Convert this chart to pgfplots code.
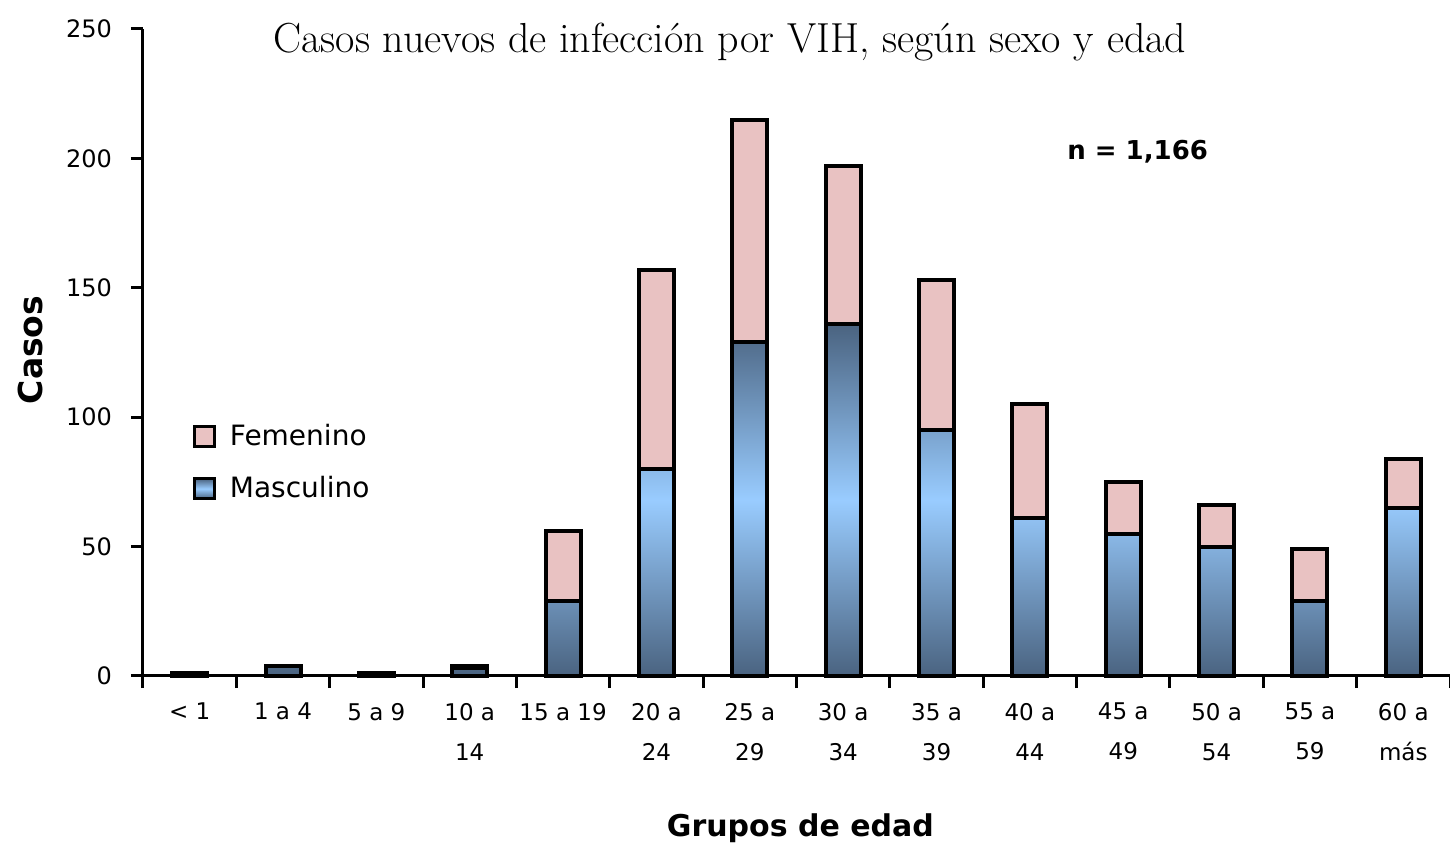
\documentclass[border=0pt]{standalone}
\usepackage{fontspec}
\usepackage{pgfplots}
\pgfplotsset{compat=1.18}
\newfontfamily\sansf{DejaVu Sans}
\definecolor{pinkf}{RGB}{233,194,194}
\definecolor{bluedark}{RGB}{74,99,128}
\definecolor{bluelight}{RGB}{153,204,255}
\pgfplotsset{sqlegend/.style={legend image code/.code={\draw[##1, line width=1.5pt] (0pt,-5pt) rectangle (10pt,5pt);}}}
\begin{document}
\begin{tikzpicture}
\begin{axis}[
  scale only axis, width=653.5pt, height=323.5pt,
  xmin=-0.5, xmax=13.5, ymin=0, ymax=250,
  ybar stacked, bar width=17.5pt,
  axis x line*=bottom, axis y line*=left,
  axis line style={-, line width=1.5pt},
  clip=false,
  ytick={0,50,...,250},
  xtick={-0.5,0.5,...,13.5},
  xticklabels={},
  extra x ticks={0,...,13},
  extra x tick labels={{< 1},{1 a 4},{5 a 9},{10 a\\14},{15 a 19},{20 a\\24},{25 a\\29},{30 a\\34},{35 a\\39},{40 a\\44},{45 a\\49},{50 a\\54},{55 a\\59},{60 a\\más}},
  extra x tick style={major tick length=0pt, xticklabel style={align=center, font=\sansf\fontsize{11.5}{20}\selectfont, anchor=north, yshift=-10pt}},
  tick align=outside,
  tick style={line width=1.5pt, black},
  major tick length=6pt,
  /pgf/number format/assume math mode=true,
  yticklabel style={font=\sansf\fontsize{12}{14}\selectfont, xshift=-6pt},
  legend style={at={(rel axis cs:0.0333,0.402)}, anchor=north west, draw=none, fill=none, font=\sansf\fontsize{14}{16}\selectfont, row sep=10pt},
  legend cell align=left,
  reverse legend,
]
\addplot[draw=black, line width=2pt, top color=bluedark, bottom color=bluedark, middle color=bluelight, sqlegend]
  coordinates {(0,1) (1,4) (2,1) (3,3) (4,29) (5,80) (6,129) (7,136) (8,95) (9,61) (10,55) (11,50) (12,29) (13,65)};
\addlegendentry{\hspace*{5pt}Masculino}
\addplot[draw=black, line width=2pt, fill=pinkf, sqlegend]
  coordinates {(0,0) (1,0) (2,0) (3,1) (4,27) (5,77) (6,86) (7,61) (8,58) (9,44) (10,20) (11,16) (12,20) (13,19)};
\addlegendentry{\hspace*{5pt}Femenino}
\coordinate (O) at (rel axis cs:0,0);
\node[font=\fontsize{21}{24}\selectfont] at (rel axis cs:0.449,0.98) {Casos nuevos de infección por VIH, según sexo y edad};
\node[font=\sansf\bfseries\fontsize{13}{16}\selectfont] at (rel axis cs:0.761,0.81) {n = 1,166};
\node[font=\sansf\bfseries\fontsize{15}{18}\selectfont, yshift=-76pt] at (rel axis cs:0.503,0) {Grupos de edad};
\node[font=\sansf\bfseries\fontsize{16.5}{18}\selectfont, xshift=-56.5pt, rotate=90] at (rel axis cs:0,0.504) {Casos};
\end{axis}
\pgfresetboundingbox
\path (O) ++(-71.5pt,-84.5pt) rectangle ++(725pt,422.5pt);
\end{tikzpicture}
\end{document}
